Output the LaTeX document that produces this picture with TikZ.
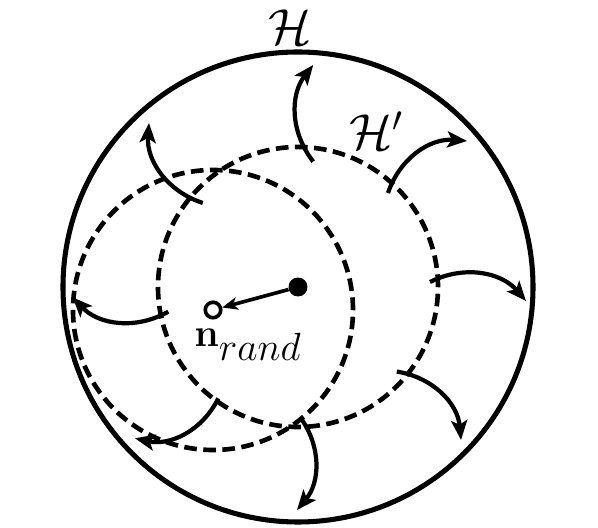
\documentclass[tikz,border=0pt]{standalone}
\usepackage{fix-cm}
\usepackage{tikz}
\usetikzlibrary{arrows.meta}

\begin{document}
\begin{tikzpicture}[
  outer/.style={black,line width=3.6pt},
  inner/.style={black,line width=3.3pt,dash pattern=on 9pt off 4.6pt},
  swirl/.style={black,line width=3pt,-{Stealth[length=14pt,width=11.5pt,inset=3.2pt]},bend left=38},
  fulldot/.style={circle,fill=black,inner sep=0pt,minimum size=13.5pt},
  opendot/.style={circle,draw=black,fill=white,line width=2.6pt,inner sep=0pt,minimum size=11pt}
]
\useasboundingbox (0,0) rectangle (14.95,13.2);

\draw[outer] (7.45,6.025) circle (5.875);
\draw[inner] (7.45,6.025) circle (3.5);
\draw[inner] (5.325,5.45) circle (3.5);

\node[font=\fontsize{36}{40}\selectfont,text=black,anchor=center,inner sep=0pt] (hlabel) at (7.25,12.52) {$\mathcal{H}$};
\node[font=\fontsize{36}{40}\selectfont,text=black,anchor=center,inner sep=0pt] (hplabel) at (9.41,9.94) {$\mathcal{H}'$};

% tails on H', tips near H
\coordinate (t1) at (7.83,9.16);   \coordinate (e1) at (7.83,11.575);
\coordinate (t2) at (5.07,8.125);  \coordinate (e2) at (3.725,10.125);
\coordinate (t3) at (9.7,8.375);   \coordinate (e3) at (11.675,9.675);
\coordinate (t4) at (10.75,6.15);  \coordinate (e4) at (13.15,5.675);
\coordinate (t5) at (9.92,3.91);   \coordinate (e5) at (11.525,2.2);
\coordinate (t6) at (7.5,2.775);   \coordinate (e6) at (7.425,0.45);
\coordinate (t7) at (5.458,3.242); \coordinate (e7) at (3.375,2.242);
\coordinate (t8) at (4.208,5.408); \coordinate (e8) at (1.817,5.767);

\foreach \i in {1,...,8}
  \draw[swirl] (t\i) to (e\i);

\node[fulldot] (centre) at (7.45,6.025) {};
\node[opendot] (nrand) at (5.325,5.45) {};
\draw[black,line width=2.6pt,-{Stealth[length=11pt,width=9pt,inset=3pt]}] (centre) -- (nrand);

\node[font=\fontsize{28}{32}\selectfont,text=black,anchor=base west,inner sep=0pt] (nlabel) at (4.85,4.525) {$\mathbf{n}_{\textstyle rand}$};

\end{tikzpicture}
\end{document}
